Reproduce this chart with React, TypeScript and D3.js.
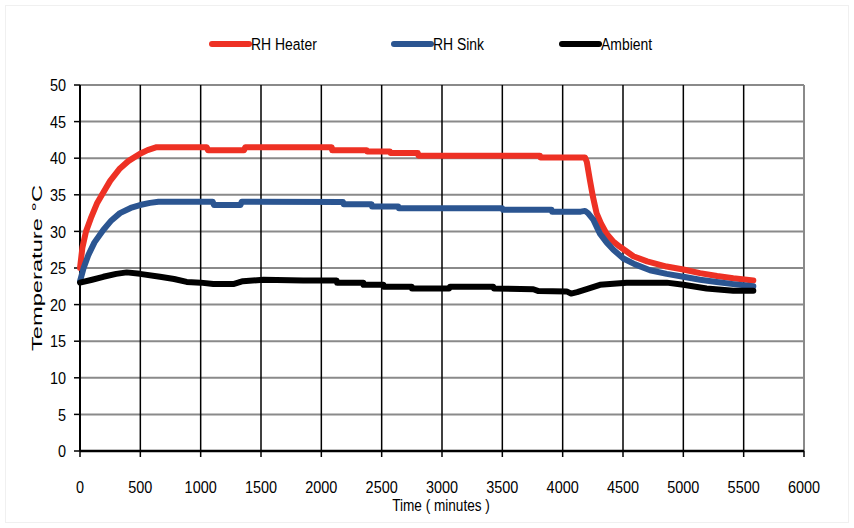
import React from "react";
import * as d3 from "d3";

const xTicks = [0, 500, 1000, 1500, 2000, 2500, 3000, 3500, 4000, 4500, 5000, 5500, 6000];
const yTicks = [0, 5, 10, 15, 20, 25, 30, 35, 40, 45, 50];

const heaterT = [0, 20, 50, 90, 140, 193, 250, 331, 400, 497, 560, 635, 1050, 1060, 1360, 1370, 2086, 2090, 2376, 2380, 2569, 2573, 2800, 2805, 3812, 3816, 4185, 4200, 4226, 4250, 4281, 4320, 4364, 4420, 4475, 4586, 4700, 4862, 5000, 5138, 5280, 5414, 5580];
const heaterV = [25.0, 27.8, 30.0, 31.8, 33.8, 35.3, 36.9, 38.6, 39.6, 40.6, 41.1, 41.5, 41.5, 41.1, 41.1, 41.5, 41.5, 41.1, 41.1, 40.9, 40.9, 40.7, 40.7, 40.35, 40.35, 40.1, 40.1, 39.5, 37.0, 34.8, 32.5, 31.0, 29.7, 28.6, 27.9, 26.6, 25.9, 25.2, 24.8, 24.3, 23.9, 23.6, 23.3];

const sinkT = [0, 30, 70, 120, 193, 260, 331, 420, 497, 580, 650, 1100, 1110, 1330, 1340, 2180, 2185, 2417, 2420, 2638, 2642, 3500, 3505, 3908, 3912, 4150, 4185, 4210, 4254, 4309, 4364, 4420, 4503, 4600, 4724, 4862, 5000, 5138, 5276, 5414, 5580];
const sinkV = [23.2, 25.0, 26.8, 28.5, 30.2, 31.5, 32.5, 33.2, 33.6, 33.9, 34.05, 34.05, 33.6, 33.6, 34.05, 34.0, 33.7, 33.7, 33.4, 33.4, 33.15, 33.15, 32.95, 32.95, 32.7, 32.7, 32.8, 32.5, 31.6, 29.7, 28.5, 27.5, 26.3, 25.5, 24.7, 24.2, 23.8, 23.4, 23.1, 22.8, 22.5];

const ambientT = [0, 100, 193, 300, 387, 497, 663, 780, 884, 1000, 1105, 1270, 1350, 1520, 1850, 2127, 2130, 2348, 2350, 2514, 2516, 2749, 2751, 3060, 3066, 3425, 3430, 3757, 3800, 4033, 4070, 4120, 4199, 4309, 4530, 4862, 5000, 5193, 5414, 5580];
const ambientV = [23.0, 23.4, 23.8, 24.2, 24.4, 24.2, 23.8, 23.5, 23.1, 23.0, 22.8, 22.8, 23.2, 23.4, 23.3, 23.3, 23.0, 23.0, 22.7, 22.7, 22.45, 22.45, 22.2, 22.2, 22.45, 22.45, 22.2, 22.1, 21.85, 21.8, 21.5, 21.7, 22.1, 22.7, 23.0, 23.0, 22.7, 22.2, 21.9, 21.9];

const seriesNames = ["RH Heater", "RH Sink", "Ambient"];
const seriesColors = ["#ee3124", "#2b5591", "#000000"];

const W = 854;
const H = 528;
const FONT = "'Liberation Sans', Arial, sans-serif";

function NText(props: {
  x: number;
  y: number;
  sx: number;
  anchor?: string;
  dy?: string;
  size?: number;
  children: React.ReactNode;
}) {
  return (
    <g transform={`translate(${props.x},${props.y}) scale(${props.sx},1)`}>
      <text
        x={0}
        y={0}
        dy={props.dy}
        textAnchor={props.anchor || "start"}
        fontFamily={FONT}
        fontSize={props.size || 17}
        fill="#000"
      >
        {props.children}
      </text>
    </g>
  );
}

export default function App() {
  const x = d3.scaleLinear().domain([0, 6000]).range([80, 804]);
  const y = d3.scaleLinear().domain([0, 50]).range([451, 85]);
  const line = d3
    .line<[number, number]>()
    .x((d) => x(d[0]))
    .y((d) => y(d[1]));

  const series = [
    heaterT.map((t, i) => [t, heaterV[i]] as [number, number]),
    sinkT.map((t, i) => [t, sinkV[i]] as [number, number]),
    ambientT.map((t, i) => [t, ambientV[i]] as [number, number]),
  ];

  const legendX = [212, 394, 562];

  return (
    <svg
      width={W}
      height={H}
      style={{ position: "absolute", left: 0, top: 0, background: "#fff" }}
    >
      <rect x={0} y={0} width={W} height={H} fill="#fff" />
      <rect x={5.5} y={5.5} width={W - 11} height={H - 11} fill="none" stroke="#f0f0f0" strokeWidth={1} />
      {/* horizontal grid */}
      {yTicks.filter((t) => t > 0).map((t) => (
        <line key={"h" + t} x1={x(0)} x2={x(6000)} y1={y(t)} y2={y(t)} stroke="#8a8a8a" strokeWidth={2} />
      ))}
      {/* vertical grid */}
      {xTicks.filter((t) => t > 0).map((t) => (
        <line
          key={"v" + t}
          x1={x(t)}
          x2={x(t)}
          y1={y(50)}
          y2={y(0)}
          stroke={t === 6000 ? "#8a8a8a" : "#000"}
          strokeWidth={t === 6000 ? 2 : 1.5}
        />
      ))}
      {/* axes */}
      <line x1={x(0)} x2={x(0)} y1={y(50)} y2={y(0)} stroke="#000" strokeWidth={2} />
      <line x1={x(0)} x2={x(6000)} y1={y(0)} y2={y(0)} stroke="#000" strokeWidth={2.5} />
      {yTicks.map((t) => (
        <g key={"yt" + t}>
          <line x1={x(0) - 6} x2={x(0)} y1={y(t)} y2={y(t)} stroke="#000" strokeWidth={1.5} />
          <NText x={66} y={y(t)} sx={0.85} anchor="end" dy="0.36em">
            {t}
          </NText>
        </g>
      ))}
      {xTicks.map((t) => (
        <g key={"xt" + t}>
          <line x1={x(t)} x2={x(t)} y1={y(0)} y2={y(0) + 6} stroke="#000" strokeWidth={1.5} />
          <NText x={x(t)} y={493} sx={0.85} anchor="middle">
            {t}
          </NText>
        </g>
      ))}
      <NText x={441} y={511} sx={0.8} anchor="middle">
        Time ( minutes )
      </NText>
      <text
        transform={`translate(42,268) rotate(-90)`}
        textAnchor="middle"
        fontFamily={FONT}
        fontSize={15}
        textLength={166}
        lengthAdjust="spacingAndGlyphs"
        fill="#000"
      >
        Temperature °C
      </text>
      {/* data lines */}
      {series.map((s, i) => (
        <path
          key={"s" + i}
          d={line(s) || ""}
          fill="none"
          stroke={seriesColors[i]}
          strokeWidth={6}
          strokeLinejoin="round"
          strokeLinecap="round"
        />
      ))}
      {/* legend */}
      {seriesNames.map((n, i) => (
        <g key={"lg" + i}>
          <line
            x1={legendX[i]}
            x2={legendX[i] + 37}
            y1={44}
            y2={44}
            stroke={seriesColors[i]}
            strokeWidth={6}
            strokeLinecap="round"
          />
          <NText x={legendX[i] + 39} y={44} sx={0.82} dy="0.36em">
            {n}
          </NText>
        </g>
      ))}
    </svg>
  );
}
